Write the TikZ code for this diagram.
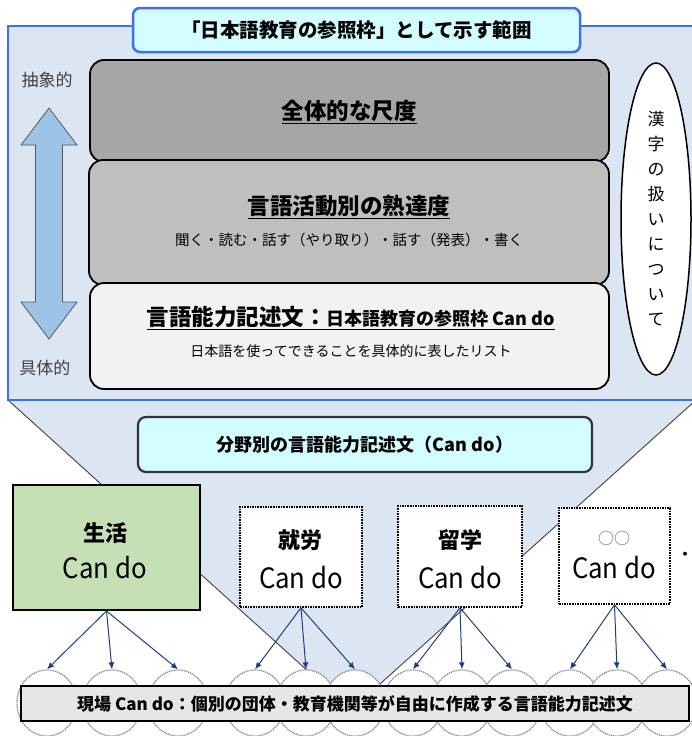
\documentclass[tikz,border=0pt]{standalone}
\usepackage{fontspec}
\setmainfont{Noto Sans CJK JP}
\newfontfamily\medjp{Noto Sans CJK JP}[FakeStretch=0.92]
\usetikzlibrary{arrows.meta,shapes.geometric}
\definecolor{outerfill}{HTML}{DCE6F2}
\definecolor{outerblue}{HTML}{3D6FF0}
\definecolor{cyanfill}{HTML}{D3FCFF}
\definecolor{grayA}{HTML}{A6A6A6}
\definecolor{grayB}{HTML}{BFBFBF}
\definecolor{grayC}{HTML}{F2F2F2}
\definecolor{arrowblue}{HTML}{9DC3E6}
\definecolor{greenfill}{HTML}{C5E0B4}
\definecolor{navy}{HTML}{1F3F7F}
\definecolor{barfill}{HTML}{E6E6E6}
\newcommand\myul[1]{\setbox0\hbox{#1}\leavevmode\rlap{\rule[-4.5pt]{\wd0}{1.3pt}}\box0}
\begin{document}
\begin{tikzpicture}[x=1pt,y=-1pt,
  txt/.style={inner sep=0pt, text=black},
  layerbox/.style={draw=black, line width=1.8pt, rounded corners=14pt, inner sep=0pt},
  dotbox/.style={draw=black, densely dotted, line width=1.6pt, fill=white, inner sep=0pt},
  circ/.style={ellipse, draw=black!45, dash pattern=on 1.2pt off 0.8pt, line width=1.3pt, fill=white, minimum width=60pt, minimum height=66pt, inner sep=0pt},
  arr/.style={-{Latex[length=7pt,width=6pt]}, draw=navy, line width=1pt},
  sidelbl/.style={inner sep=0pt, text=black!75, font=\fontsize{17}{20}\selectfont},
  catfont/.style={font=\fontsize{22}{26}\selectfont\bfseries},
  cdfont/.style={font=\medjp\fontsize{28}{30}\selectfont},
]
\useasboundingbox (0,0) rectangle (692,736);
\clip (0,0) rectangle (692,736);

% funnel
\fill[outerfill] (8,400) -- (696,400) -- (351,710) -- cycle;
\draw[black!75, line width=0.9pt] (8,400) -- (351,710) -- (696,400);

% outer frame
\draw[outerblue, fill=outerfill, line width=2.5pt] (8,26) rectangle (730,400);

% title
\node[draw=outerblue, fill=cyanfill, line width=2.5pt, rounded corners=7pt,
      minimum width=447pt, minimum height=44pt, inner sep=0pt,
      font=\fontsize{19.5}{22}\selectfont\bfseries] (title) at (356.5,30) {「日本語教育の参照枠」として示す範囲};

% stacked layers
\node[layerbox, fill=grayA, minimum width=519pt, minimum height=102pt] (global) at (349.5,111) {};
\node[layerbox, fill=grayB, minimum width=520pt, minimum height=125pt] (activity) at (349,222.5) {};
\node[layerbox, fill=grayC, minimum width=519pt, minimum height=106pt] (desc) at (349.5,336) {};

\node[txt, font=\fontsize{22.5}{26}\selectfont\bfseries] (globalT) at (349,112) {\myul{全体的な尺度}};
\node[txt, font=\fontsize{22.5}{26}\selectfont\bfseries] (activityT) at (349,207) {\myul{言語活動別の熟達度}};
\node[txt, font=\fontsize{14.5}{17}\selectfont] (activityS) at (349,240) {聞く・読む・話す（やり取り）・話す（発表）・書く};
\node[txt, font=\bfseries] (descT) at (351,318) {\myul{\fontsize{22.5}{26}\selectfont 言語能力記述文：\fontsize{18}{22}\selectfont 日本語教育の参照枠 Can do}};
\node[txt, font=\fontsize{14}{17}\selectfont] (descS) at (351,351) {日本語を使ってできることを具体的に表したリスト};

% kanji ellipse
\node[ellipse, draw=black, line width=1.5pt, fill=white, minimum width=70pt, minimum height=312pt, inner sep=0pt] (kanji) at (656,219) {};
\node[txt, align=center, font=\fontsize{17}{25}\selectfont] (kanjiT) at (656,219) {漢\\字\\の\\扱\\い\\に\\つ\\い\\て};

% double arrow
\filldraw[fill=arrowblue, draw=gray!70!black, line width=0.8pt]
  (49,108) -- (77,145) -- (62.5,145) -- (62.5,302) -- (77,302) -- (49,339)
  -- (21,302) -- (35.5,302) -- (35.5,145) -- (21,145) -- cycle;
\node[sidelbl] (abstract) at (47,80) {抽象的};
\node[sidelbl] (concrete) at (45,368) {具体的};

% field box
\node[draw=black!80, fill=cyanfill, line width=2.2pt, rounded corners=8pt,
      minimum width=454pt, minimum height=55pt, inner sep=0pt,
      font=\fontsize{18}{22}\selectfont\bfseries] (field) at (365,444.5) {分野別の言語能力記述文（Can do）};

% category boxes
\node[draw=black, line width=2pt, fill=greenfill, minimum width=187pt, minimum height=125pt, inner sep=0pt] (life) at (106.5,547.5) {};
\node[dotbox, minimum width=122pt, minimum height=100pt] (work) at (301,557) {};
\node[dotbox, minimum width=124pt, minimum height=101pt] (study) at (460,556.5) {};
\node[dotbox, minimum width=111pt, minimum height=96pt] (other) at (614.5,556) {};

\node[txt, catfont] (lifeA) at (105,533) {生活};
\node[txt, cdfont] (lifeB) at (105,568) {Can do};
\node[txt, catfont] (workA) at (300,540) {就労};
\node[txt, cdfont] (workB) at (301,578) {Can do};
\node[txt, catfont] (studyA) at (460,540) {留学};
\node[txt, cdfont] (studyB) at (460,578) {Can do};
\node[txt, text=black!60, font=\fontsize{16}{18}\selectfont] (otherA) at (614,538) {○○};
\node[txt, cdfont] (otherB) at (614,568) {Can do};
\node[txt, font=\fontsize{14}{16}\selectfont\bfseries] (more) at (685,556) {・};

% circles
\node[circ] (c1) at (47,703) {};
\node[circ] (c2) at (112,703) {};
\node[circ] (c3) at (178,703) {};
\node[circ] (c4) at (255,703) {};
\node[circ] (c5) at (306,703) {};
\node[circ] (c6) at (355,703) {};
\node[circ] (c7) at (413,703) {};
\node[circ] (c8) at (462,703) {};
\node[circ] (c9) at (512,703) {};
\node[circ] (c10) at (570,703) {};
\node[circ] (c11) at (617,703) {};
\node[circ] (c12) at (667,703) {};

% arrows
\foreach \s/\t in {life/c1,life/c2,life/c3,work/c4,work/c5,work/c6,study/c7,study/c8,study/c9,other/c10,other/c11,other/c12}
  \draw[arr] (\s.south) -- (\t.north);

% bottom bar
\node[draw=black, line width=1.2pt, fill=barfill, minimum width=668pt, minimum height=35pt, inner sep=0pt,
      font=\fontsize{17}{20}\selectfont\bfseries] (bar) at (355,703.5) {現場 Can do：個別の団体・教育機関等が自由に作成する言語能力記述文};
\end{tikzpicture}
\end{document}
